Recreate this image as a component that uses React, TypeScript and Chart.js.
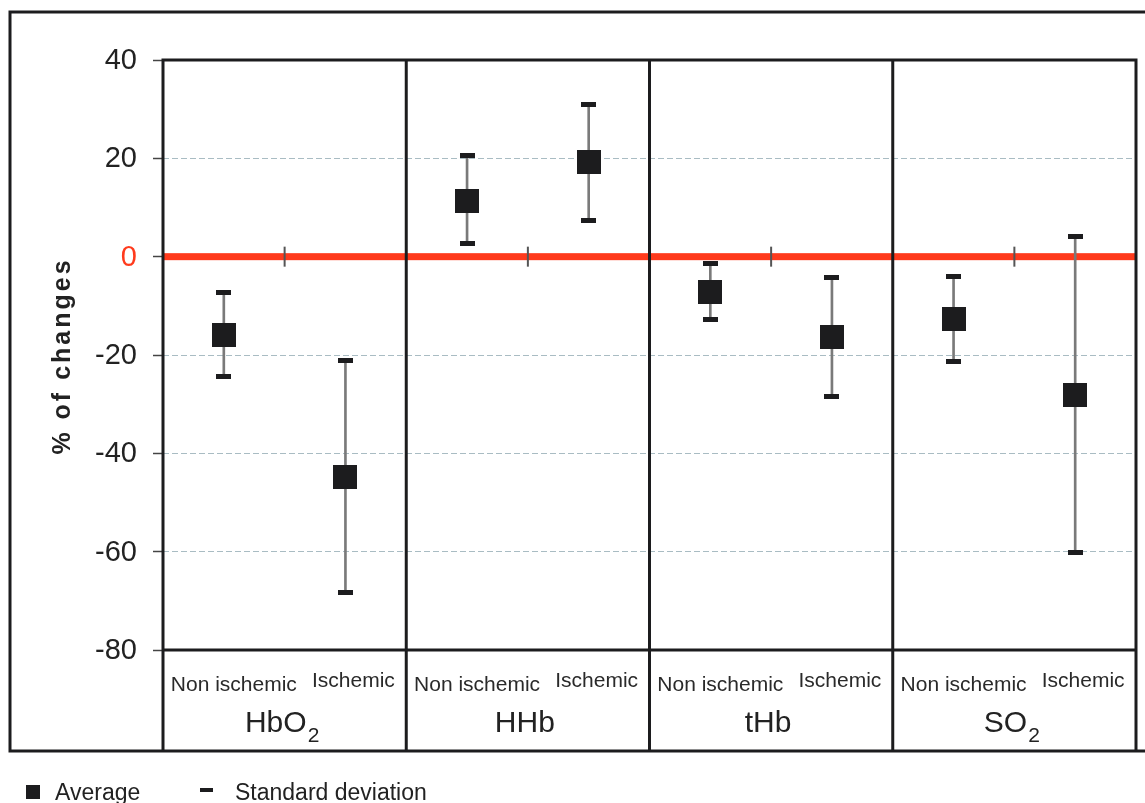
import React, { useEffect, useRef } from 'react';
import { Chart, registerables } from 'chart.js';

Chart.register(...registerables);

// ---- Data ----
const categories = [
  'Non ischemic', 'Ischemic',
  'Non ischemic', 'Ischemic',
  'Non ischemic', 'Ischemic',
  'Non ischemic', 'Ischemic',
];
const groupNames = ['HbO', 'HHb', 'tHb', 'SO'];
const groupSubscripts = ['2', '', '', '2'];
const means = [-15.9, -44.8, 11.3, 19.3, -7.1, -16.3, -12.7, -28.1];
const upperSD = [-7.2, -21.2, 20.5, 31.0, -1.3, -4.3, -4.1, 4.1];
const lowerSD = [-24.3, -68.4, 2.6, 7.3, -12.7, -28.5, -21.4, -60.1];
const yTicks = [40, 20, 0, -20, -40, -60, -80];

const FONT = '"Liberation Sans", Arial, Helvetica, sans-serif';
const RED = '#ff3a1c';
const DARK = '#1c1c1e';
const TEXT = '#222222';

function makeRectImage(w: number, h: number, color: string) {
  const c = document.createElement('canvas');
  c.width = w;
  c.height = h;
  const g = c.getContext('2d')!;
  g.fillStyle = color;
  g.fillRect(0, 0, w, h);
  return c;
}

const decorPlugin = {
  id: 'decor',
  beforeDatasetsDraw(chart: any) {
    const { ctx, chartArea: a, scales } = chart;
    const x = scales.x;
    const y = scales.y;
    const y0 = y.getPixelForValue(0);
    ctx.save();
    ctx.fillStyle = RED;
    ctx.fillRect(a.left, y0 - 3.5, a.right - a.left, 7);
    ctx.strokeStyle = '#555';
    ctx.lineWidth = 2;
    for (let g = 0; g < groupNames.length; g++) {
      const xm = (x.getPixelForValue(2 * g) + x.getPixelForValue(2 * g + 1)) / 2;
      ctx.beginPath();
      ctx.moveTo(xm, y0 - 10);
      ctx.lineTo(xm, y0 + 10);
      ctx.stroke();
    }
    ctx.restore();
  },
  afterDraw(chart: any) {
    const { ctx, chartArea: a, scales, width } = chart;
    const x = scales.x;
    const y = scales.y;
    const frameBottom = 751;
    ctx.save();
    // outer frame
    ctx.strokeStyle = DARK;
    ctx.lineWidth = 3;
    ctx.beginPath();
    ctx.moveTo(width + 5, 12);
    ctx.lineTo(10, 12);
    ctx.lineTo(10, frameBottom);
    ctx.lineTo(width + 5, frameBottom);
    ctx.stroke();

    // plot frame + table
    ctx.beginPath();
    ctx.moveTo(a.left, a.top);
    ctx.lineTo(a.right, a.top);
    ctx.moveTo(a.left, a.bottom);
    ctx.lineTo(a.right, a.bottom);
    const verticals = [a.left];
    for (let g = 0; g < groupNames.length - 1; g++) {
      verticals.push((x.getPixelForValue(2 * g + 1) + x.getPixelForValue(2 * g + 2)) / 2);
    }
    verticals.push(a.right);
    verticals.forEach((vx) => {
      ctx.moveTo(vx, a.top - 1.5);
      ctx.lineTo(vx, frameBottom);
    });
    ctx.stroke();

    // y tick labels
    ctx.font = `29px ${FONT}`;
    ctx.textAlign = 'right';
    ctx.textBaseline = 'middle';
    yTicks.forEach((v) => {
      ctx.fillStyle = v === 0 ? RED : TEXT;
      ctx.fillText(String(v), 137, y.getPixelForValue(v) + 1);
    });

    // y title
    ctx.save();
    ctx.translate(63, 356);
    ctx.rotate(-Math.PI / 2);
    ctx.font = `bold 25px ${FONT}`;
    (ctx as any).letterSpacing = '3px';
    ctx.fillStyle = TEXT;
    ctx.textAlign = 'center';
    ctx.textBaseline = 'middle';
    ctx.fillText('% of changes', 0, 0);
    ctx.restore();

    // category labels
    ctx.font = `21px ${FONT}`;
    ctx.textAlign = 'center';
    ctx.textBaseline = 'alphabetic';
    ctx.fillStyle = '#2a2a2a';
    categories.forEach((c, i) => {
      const cx = x.getPixelForValue(i);
      const isNon = i % 2 === 0;
      ctx.fillText(c, cx + (isNon ? 10 : 8), isNon ? 691 : 687);
    });

    // group labels with subscripts
    ctx.fillStyle = TEXT;
    for (let g = 0; g < groupNames.length; g++) {
      const gc = (x.getPixelForValue(2 * g) + x.getPixelForValue(2 * g + 1)) / 2 - 3;
      ctx.font = `30px ${FONT}`;
      const wBase = ctx.measureText(groupNames[g]).width;
      ctx.font = `21px ${FONT}`;
      const wSub = groupSubscripts[g] ? ctx.measureText(groupSubscripts[g]).width : 0;
      const start = gc - (wBase + wSub) / 2;
      ctx.textAlign = 'left';
      ctx.font = `30px ${FONT}`;
      ctx.fillText(groupNames[g], start, 732);
      if (groupSubscripts[g]) {
        ctx.font = `21px ${FONT}`;
        ctx.fillText(groupSubscripts[g], start + wBase + 1, 742);
      }
    }

    // legend
    ctx.fillStyle = DARK;
    ctx.fillRect(26, 785, 14, 14);
    ctx.fillRect(200, 788, 13, 4);
    ctx.fillStyle = TEXT;
    ctx.font = `23px ${FONT}`;
    ctx.textAlign = 'left';
    ctx.fillText('Average', 55, 800);
    ctx.fillText('Standard deviation', 235, 800);
    ctx.restore();
  },
};

export default function App() {
  const canvasRef = useRef<HTMLCanvasElement | null>(null);

  useEffect(() => {
    if (!canvasRef.current) return;
    const meanImg = makeRectImage(24, 24, DARK);
    const capImg = makeRectImage(15, 5, DARK);
    const chart = new Chart(canvasRef.current, {
      type: 'bar',
      data: {
        labels: categories,
        datasets: [
          {
            type: 'bar',
            label: 'SD range',
            data: lowerSD.map((l, i) => [l, upperSD[i]]) as any,
            backgroundColor: '#7a7a7a',
            barThickness: 2,
            order: 3,
          },
          {
            type: 'line',
            label: 'Upper SD',
            data: upperSD,
            showLine: false,
            pointStyle: capImg,
            pointRadius: 2,
            pointBorderWidth: 0,
            order: 2,
          } as any,
          {
            type: 'line',
            label: 'Lower SD',
            data: lowerSD,
            showLine: false,
            pointStyle: capImg,
            pointRadius: 2,
            pointBorderWidth: 0,
            order: 2,
          } as any,
          {
            type: 'line',
            label: 'Average',
            data: means,
            showLine: false,
            pointStyle: meanImg,
            pointRadius: 2,
            pointBorderWidth: 0,
            order: 1,
          } as any,
        ],
      },
      options: {
        responsive: false,
        animation: false,
        layout: { padding: { left: 0, top: 60, right: 9, bottom: 153 } },
        plugins: { legend: { display: false }, tooltip: { enabled: false } },
        scales: {
          x: { type: 'category', display: false, offset: true },
          y: {
            type: 'linear',
            min: -80,
            max: 40,
            ticks: { stepSize: 20, display: false },
            grid: {
              color: (c: any) =>
                c.tick && (c.tick.value === 0 || c.tick.value === 40 || c.tick.value === -80)
                  ? 'rgba(0,0,0,0)'
                  : '#a9bcc3',
              lineWidth: 1,
              drawTicks: true,
              tickLength: 10,
              tickColor: '#444',
              tickWidth: 1.5,
              tickBorderDash: [],
            },
            border: { display: false, dash: [6, 3] },
            afterFit: (s: any) => {
              s.width = 163;
            },
          },
        },
      },
      plugins: [decorPlugin],
    });
    return () => chart.destroy();
  }, []);

  return (
    <div style={{ position: 'absolute', left: 0, top: 0, width: 1145, height: 803, background: '#fff' }}>
      <canvas ref={canvasRef} width={1145} height={803} style={{ display: 'block' }} />
    </div>
  );
}
